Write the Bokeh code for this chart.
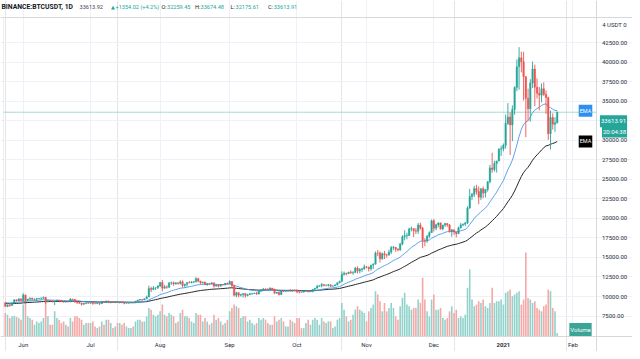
import numpy as np
import pandas as pd
from bokeh.plotting import figure
from bokeh.models import (Range1d, FixedTicker, Label, Span, ColumnDataSource, Grid, BoxAnnotation)
from bokeh.core.properties import value
from bokeh.embed import file_html
from bokeh.resources import INLINE

# ---------------- data (BINANCE:BTCUSDT, 1D) ----------------
start_date = "2020-05-24"
first_open = 9180.0

# closes before the visible window (May 1 - May 23, 2020), used to warm up the EMAs
warmup_closes = [8830, 8970, 8890, 8880, 9030, 9150, 9980, 9810, 9540, 8720, 8560, 8810,
                 9310, 9790, 9310, 9380, 9670, 9730, 9780, 9510, 9060, 9170, 9180]

closes = (
    # May 24-31
    [8720, 8900, 8840, 9200, 9575, 9430, 9700, 9450]
    # Jun
    + [10200, 9520, 9665, 9790, 9620, 9670, 9750, 9780, 9780, 9880, 9320, 9480, 9470, 9340, 9430,
       9520, 9460, 9390, 9300, 9360, 9290, 9680, 9630, 9290, 9250, 9160, 9010, 9120, 9190, 9140]
    # Jul
    + [9230, 9090, 9060, 9130, 9080, 9340, 9250, 9430, 9230, 9290, 9240, 9300, 9240, 9250, 9200,
       9130, 9150, 9170, 9210, 9160, 9390, 9540, 9610, 9550, 9710, 9930, 11030, 10910, 11100, 11110, 11350]
    # Aug
    + [11800, 11070, 11230, 11190, 11750, 11770, 11600, 11750, 11680, 11880, 11400, 11580, 11780, 11770, 11860,
       11910, 12290, 11960, 11750, 11860, 11520, 11680, 11650, 11750, 11330, 11460, 11320, 11530, 11470, 11710, 11650]
    # Sep
    + [11920, 11390, 10170, 10470, 10170, 10260, 10370, 10130, 10230, 10350, 10390, 10440, 10330, 10680, 10790,
       10960, 10940, 10930, 11080, 10920, 10420, 10540, 10240, 10740, 10690, 10730, 10770, 10690, 10840, 10780]
    # Oct
    + [10620, 10570, 10550, 10670, 10790, 10600, 10670, 10920, 11060, 11300, 11380, 11540, 11430, 11430, 11500,
       11320, 11360, 11500, 11750, 11920, 12810, 12990, 12930, 13120, 13030, 13070, 13650, 13280, 13460, 13560, 13800]
    # Nov
    + [13760, 13550, 14020, 14150, 15590, 15580, 14830, 15480, 15330, 15300, 15700, 16280, 16320, 16070, 15960,
       16720, 17660, 17800, 17820, 18660, 18700, 18420, 18370, 19160, 18740, 17160, 17140, 17720, 18180, 19700]
    # Dec
    + [18760, 19200, 19420, 18650, 19150, 19360, 19170, 18320, 18550, 18250, 18030, 18800, 19170, 19270, 19430,
       21340, 22800, 23100, 23840, 23470, 22720, 23820, 23250, 23720, 24690, 26480, 26270, 27040, 27370, 28880, 28920]
    # Jan 2021 (1-25)
    + [29370, 32180, 33000, 31990, 33950, 36770, 39430, 40580, 40090, 38150, 35400, 34050, 37370, 39150, 36820,
       36030, 35800, 36630, 35920, 35470, 30850, 32950, 32080, 32259.45, 33613.91]
)

highs = (
    [9310, 8980, 9010, 9225, 9625, 9600, 9740, 9705]
    + [10430, 10230, 9690, 9880, 9850, 9730, 9800, 9800, 9880, 9990, 9960, 9560, 9500, 9490, 9500,
       9590, 9540, 9480, 9400, 9400, 9420, 9790, 9690, 9680, 9320, 9280, 9200, 9190, 9230, 9200]
    + [9300, 9270, 9130, 9190, 9140, 9360, 9350, 9470, 9450, 9310, 9300, 9340, 9350, 9280, 9270,
       9230, 9180, 9200, 9230, 9220, 9430, 9570, 9680, 9650, 9730, 10110, 11400, 11250, 11350, 11170, 11450]
    + [11860, 12120, 11480, 11420, 11800, 11910, 11920, 11810, 11810, 12070, 12080, 11620, 11800, 12000, 11980,
       11930, 12480, 12400, 12030, 11890, 11890, 11690, 11720, 11810, 11770, 11530, 11590, 11550, 11570, 11720, 11780]
    + [12070, 11950, 11460, 10600, 10560, 10350, 10410, 10440, 10350, 10480, 10400, 10480, 10570, 10800, 10940,
       11100, 11040, 11030, 11180, 11050, 10990, 10570, 10580, 10770, 10750, 10790, 10800, 10960, 10860, 10850]
    + [10930, 10640, 10600, 10690, 10800, 10800, 10690, 10960, 11100, 11500, 11430, 11720, 11560, 11550, 11630,
       11550, 11420, 11540, 11820, 12040, 13220, 13200, 13030, 13170, 13350, 13250, 13790, 13860, 13650, 13660, 14100]
    + [13900, 13830, 14070, 14260, 15770, 15970, 15770, 15650, 15850, 15480, 15990, 16480, 16480, 16330, 16180,
       16880, 17860, 18480, 18170, 18820, 18950, 18700, 18770, 19420, 19480, 18920, 17460, 17880, 18350, 19860]
    + [19920, 19310, 19530, 19500, 19180, 19420, 19390, 19290, 18640, 18560, 18290, 18950, 19410, 19350, 19570,
       21560, 23800, 23280, 24170, 24300, 24100, 23840, 24100, 23780, 24790, 26870, 28420, 27390, 27400, 28990, 29320]
    + [29600, 33300, 34780, 33600, 34500, 36940, 40370, 41950, 41380, 41350, 38260, 36630, 37850, 40100, 39700,
       37950, 36850, 37300, 37450, 36400, 35600, 33830, 33460, 32980, 33674.48]
)

lows = (
    [8700, 8630, 8700, 8810, 9110, 9330, 9350, 9380]
    + [9420, 9260, 9370, 9450, 9580, 9530, 9380, 9640, 9570, 9700, 9080, 9240, 9340, 9240, 8900,
       9380, 9260, 9280, 9200, 9200, 9270, 9280, 9570, 9210, 9020, 9040, 8840, 8940, 9020, 9080]
    + [9100, 8940, 9050, 9050, 8900, 9060, 9200, 9240, 9150, 9120, 9180, 9150, 9200, 9110, 9160,
       9000, 9090, 9120, 9120, 9130, 9150, 9270, 9480, 9460, 9530, 9650, 9920, 10560, 10820, 10830, 10960]
    + [11220, 10660, 11000, 11000, 11080, 11500, 11370, 11530, 11520, 11520, 11130, 11150, 11270, 11690, 11690,
       11700, 11780, 11820, 11570, 11660, 11490, 11380, 11530, 11600, 11130, 11260, 11160, 11290, 11420, 11450, 11600]
    + [11610, 11170, 10000, 9900, 9880, 9990, 9880, 9850, 10010, 10200, 10220, 10300, 10200, 10280, 10640,
       10700, 10750, 10820, 10890, 10760, 10360, 10360, 10140, 10200, 10560, 10640, 10630, 10670, 10640, 10670]
    + [10430, 10370, 10500, 10530, 10630, 10530, 10560, 10530, 10830, 11050, 11270, 11180, 11300, 11290, 11280,
       11200, 11270, 11340, 11420, 11690, 11900, 12690, 12710, 12880, 12900, 12780, 13050, 12930, 12980, 13130, 13420]
    + [13620, 13200, 13290, 13520, 14090, 15180, 14340, 14700, 14800, 14970, 15290, 15440, 15960, 15720, 15790,
       15870, 16560, 17200, 17330, 17760, 18350, 17620, 18000, 18020, 18570, 16190, 16440, 16880, 17520, 18180]
    + [18330, 18500, 18870, 18570, 18500, 18900, 18920, 18200, 17650, 17910, 17570, 18020, 18700, 19000, 19050,
       19280, 21230, 22350, 22750, 23060, 21820, 22350, 22600, 22700, 23430, 24500, 25860, 26000, 25880, 27320, 28000]
    + [28600, 28950, 32000, 28130, 29900, 33290, 36300, 36500, 38720, 35110, 30420, 32530, 32400, 36700, 34410,
       35360, 33850, 34880, 35700, 33400, 30070, 28850, 31390, 31100, 32175.61]
)

# daily volume, thousand BTC
volumes = (
    [70, 65, 55, 60, 62, 58, 55, 50]
    + [95, 115, 60, 55, 50, 35, 45, 40, 45, 55, 105, 60, 35, 35, 75, 55, 50, 40, 45, 35, 30, 55, 45, 60, 60, 55, 50, 35, 40, 40]
    + [40, 45, 30, 25, 30, 45, 35, 50, 50, 40, 25, 30, 40, 40, 35, 40, 30, 25, 25, 30, 45, 50, 50, 45, 45, 60, 85, 80, 65, 60, 65]
    + [75, 95, 65, 60, 70, 65, 60, 40, 45, 70, 80, 60, 60, 55, 45, 40, 70, 65, 65, 45, 55, 45, 35, 40, 65, 50, 55, 45, 35, 40, 50]
    + [75, 85, 95, 90, 85, 55, 60, 60, 45, 50, 40, 35, 40, 55, 50, 55, 50, 40, 35, 35, 60, 45, 50, 55, 45, 30, 30, 50, 45, 40]
    + [55, 55, 25, 25, 40, 50, 35, 50, 55, 50, 35, 55, 45, 40, 45, 45, 25, 30, 50, 55, 100, 80, 60, 45, 50, 65, 80, 90, 80, 75, 70]
    + [45, 75, 85, 95, 135, 125, 105, 75, 100, 75, 85, 100, 85, 60, 50, 90, 115, 130, 95, 90, 80, 85, 85, 110, 100, 175, 110, 75, 60, 110]
    + [125, 80, 80, 85, 55, 50, 55, 75, 90, 70, 80, 55, 60, 55, 65, 145, 200, 110, 90, 95, 105, 100, 110, 90, 85, 100, 145, 100, 105, 105, 110]
    + [95, 130, 135, 140, 120, 125, 130, 135, 95, 110, 250, 115, 110, 100, 105, 85, 80, 75, 90, 95, 140, 135, 85, 75, 10]
)

month_tick_dates = ["2020-06-01", "2020-07-01", "2020-08-01", "2020-09-01", "2020-10-01",
                    "2020-11-01", "2020-12-01", "2021-01-01", "2021-02-01"]
month_labels = ["Jun", "Jul", "Aug", "Sep", "Oct", "Nov", "Dec", "2021", "Feb"]
price_ticks = [7500, 10000, 12500, 15000, 17500, 20000, 22500, 25000, 27500,
               30000, 32500, 35000, 37500, 40000, 42500]
# 32500 label is hidden under the last-price tags in the original
price_label_ticks = [7500, 10000, 12500, 15000, 17500, 20000, 22500, 25000, 27500,
                     30000, 35000, 37500, 40000, 42500]

header_symbol = "BINANCE:BTCUSDT, 1D"
header_last = "33613.92"
header_arrow = "▲"
header_change = "+1354.02 (+4.2%)"
header_ohlc = [("O:", "32259.45"), ("H:", "33674.48"), ("L:", "32175.61"), ("C:", "33613.91")]
currency_text = "4 USDT 0"
last_price = 33613.91
last_price_text = "33613.91"
countdown_text = "20:04:38"
ema_fast_span = 20
ema_slow_span = 50

# ---------------- layout constants (pixels inside the figure) ----------------
FIG_W, FIG_H = 632, 351
PANE_L, PANE_R, PANE_T, PANE_B = 3, 596, 17, 336
X_PANE = (-0.8, 263.5)        # days shown in the chart pane
Y_PANE = (4875.0, 45750.0)    # price shown in the chart pane
VOL_PANE_TOP = 950.0          # volume value at the pane's top edge

kx = (X_PANE[1] - X_PANE[0]) / (PANE_R - PANE_L)
ky = (Y_PANE[1] - Y_PANE[0]) / (PANE_B - PANE_T)
kv = VOL_PANE_TOP / (PANE_B - PANE_T)
x_start = X_PANE[0] - PANE_L * kx
y_top = Y_PANE[1] + PANE_T * ky


def data_x(px):
    return x_start + px * kx


def data_y(py):
    return y_top - py * ky


# ---------------- derived ----------------
n = len(closes)
assert len(highs) == n and len(lows) == n and len(volumes) == n
start = pd.Timestamp(start_date)
x = np.arange(n)
c = np.array(closes, dtype=float)
o = np.concatenate([[first_open], c[:-1]])
h = np.maximum(np.array(highs, dtype=float), np.maximum(o, c))
l = np.minimum(np.array(lows, dtype=float), np.minimum(o, c))
up = c >= o

GREEN, RED = "#26a69a", "#ef5350"
VGREEN, VRED = "#93d2cb", "#f6a8a6"
TEXT = "#2a2e39"
FONT = "Roboto"

src = ColumnDataSource(dict(
    x=x, o=o, c=c, h=h, l=l,
    top=np.maximum(o, c), bottom=np.minimum(o, c),
    color=[GREEN if u else RED for u in up],
    vol=volumes,
    vcolor=[VGREEN if u else VRED for u in up],
))

all_closes = pd.Series(list(warmup_closes) + list(closes), dtype=float)
w = len(warmup_closes)
ema_fast = all_closes.ewm(span=ema_fast_span, adjust=False).mean().values[w:]
ema_slow = all_closes.ewm(span=ema_slow_span, adjust=False).mean().values[w:]

month_x = [(pd.Timestamp(d) - start).days for d in month_tick_dates]

# ---------------- figure (frame = whole picture) ----------------
p = figure(frame_width=FIG_W, frame_height=FIG_H,
           min_border_left=0, min_border_right=0, min_border_top=0, min_border_bottom=0,
           x_range=Range1d(x_start, x_start + FIG_W * kx),
           y_range=Range1d(y_top - FIG_H * ky, y_top),
           x_axis_location=None, y_axis_location=None,
           output_backend="svg", toolbar_location=None)
p.extra_y_ranges = {"vol": Range1d(-(FIG_H - PANE_B) * kv, VOL_PANE_TOP + PANE_T * kv)}
p.background_fill_color = "white"
p.border_fill_color = "white"
p.outline_line_color = None

# grid lines, bounded to the chart pane
p.add_layout(Grid(dimension=0, ticker=FixedTicker(ticks=month_x), bounds=Y_PANE,
                  grid_line_color="#eef1f7"))
p.add_layout(Grid(dimension=1, ticker=FixedTicker(ticks=price_ticks), bounds=X_PANE,
                  grid_line_color="#eef1f7"))

# pane borders
p.add_layout(BoxAnnotation(left=X_PANE[0], right=X_PANE[1], bottom=Y_PANE[0], top=Y_PANE[1],
                           fill_alpha=0, line_color="#c3c6ce", line_width=1))
p.add_layout(Span(location=X_PANE[1], dimension="height", line_color="#d6d8de", line_width=1))
p.add_layout(Span(location=Y_PANE[1], dimension="width", line_color="#d6d8de", line_width=1))
p.add_layout(Span(location=Y_PANE[0], dimension="width", line_color="#d6d8de", line_width=1))

# volume
p.vbar(x="x", width=0.72, top="vol", bottom=0, y_range_name="vol",
       fill_color="vcolor", line_color=None, source=src)

# last-price line
p.segment(x0=[X_PANE[0]], x1=[X_PANE[1]], y0=[last_price], y1=[last_price],
          line_color="#a6d8d2", line_width=1)

# EMAs
p.line(x, ema_slow, line_color="#262626", line_width=1.0)
p.line(x, ema_fast, line_color="#4a98ea", line_width=0.9)

# candles
p.segment(x0="x", x1="x", y0="l", y1="h", line_color="color", line_width=0.9, source=src)
p.vbar(x="x", width=0.68, top="top", bottom="bottom", fill_color="color",
       line_color="color", line_width=0.4, source=src)

# price scale labels (right)
p.text(x=[data_x(PANE_R + 5.5)] * len(price_label_ticks), y=price_label_ticks,
       text=[f"{v:.2f}" for v in price_label_ticks],
       text_font=value(FONT), text_font_size=value("6px"), text_color=TEXT,
       text_align="left", text_baseline="middle")

# time scale labels (bottom)
tsrc = ColumnDataSource(dict(x=month_x, y=[data_y(PANE_B + 8.3)] * len(month_x), text=month_labels,
                             style=["bold" if lab.isdigit() else "normal" for lab in month_labels]))
p.text(x="x", y="y", text="text", source=tsrc, text_font=value(FONT), text_font_size=value("6px"),
       text_font_style="style", text_color=TEXT, text_align="center", text_baseline="middle")


# ---------------- labels ----------------
def slabel(fx, fy, text, color="#131722", size="5.6px", style="normal", align="left",
           font=FONT, **kw):
    p.add_layout(Label(x=fx, y=FIG_H - fy, x_units="screen", y_units="screen", text=text,
                       text_font=font, text_font_size=size, text_font_style=style,
                       text_color=color, text_align=align, text_baseline="middle", **kw))


HY = 6.8
slabel(1, HY, header_symbol, style="bold", size="6.8px")
slabel(79, HY, header_last, color="#434651")
slabel(110.5, HY, header_arrow, color=GREEN, size="5px", font="DejaVu Sans")
slabel(115, HY, header_change, color=GREEN)
ohlc_x = [(161, 166.5), (194.5, 200), (230, 235), (267.6, 273.2)]
for (k, v), (kxp, vxp) in zip(header_ohlc, ohlc_x):
    slabel(kxp, HY, k, color="#131722")
    slabel(vxp, HY, v, color=GREEN)

# top-right currency label
slabel(614, 23.5, currency_text, color=TEXT, size="6px", align="center")

# EMA value tags
for val, bg in ((ema_fast[-1], "#2f8ff0"), (ema_slow[-1], "#000000")):
    p.add_layout(Label(x=585, y=val, x_units="screen", y_units="data", text="EMA",
                       text_font=FONT, text_font_size="5.5px", text_color="white",
                       text_align="center", text_baseline="middle",
                       background_fill_color=bg, padding=(1, 3)))

# last price / countdown tags
slabel(613, 120.8, last_price_text, color="white", size="6px", align="center",
       background_fill_color="#26a69a", padding=(1, 4))
slabel(614, 130.6, countdown_text, color="white", size="6px", align="center",
       background_fill_color="#26a69a", padding=(1, 3))

# volume tag
slabel(580, 329, "Volume", color="white", size="6px", align="center",
       background_fill_color="#3aa597", padding=(1, 3))

open("out.html", "w").write(file_html(p, INLINE))
